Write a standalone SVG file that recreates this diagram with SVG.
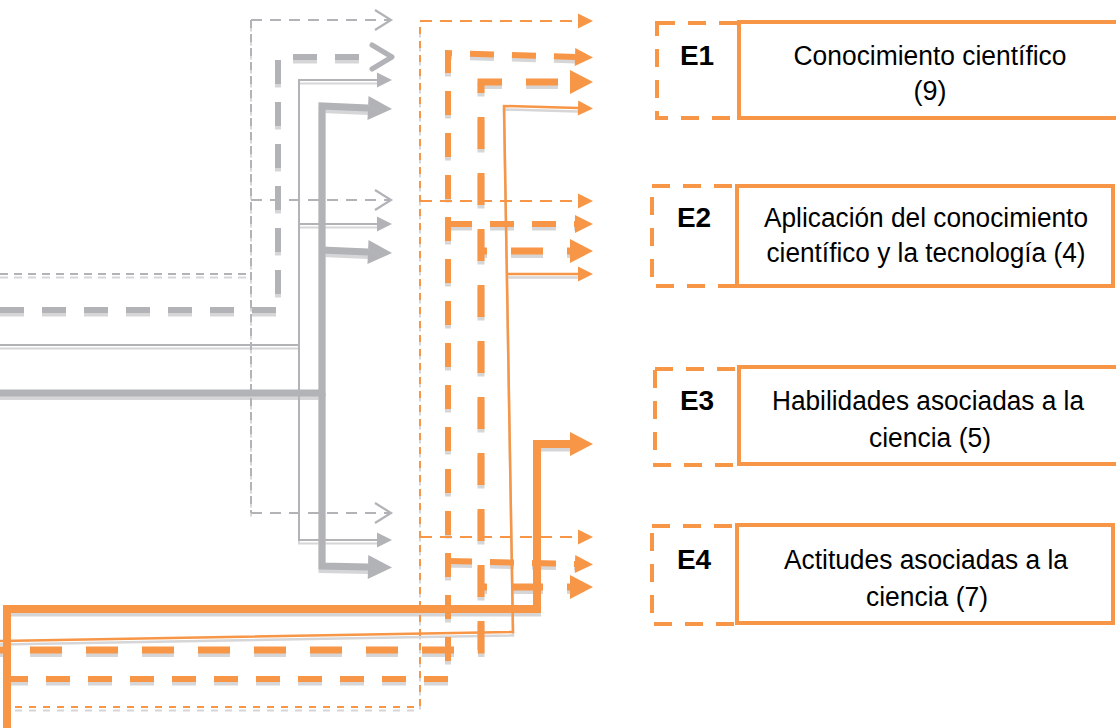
<svg xmlns="http://www.w3.org/2000/svg" width="1116" height="728" viewBox="0 0 1116 728">
<style>
.sh{fill:none;stroke:#d6d6d8}
.g{fill:none;stroke:#b1b3b6}
.o{fill:none;stroke:#f79646}
.w2{stroke-width:2}
.w25{stroke-width:2.5}
.w6{stroke-width:6}
.w7{stroke-width:7}
.w8{stroke-width:8}
.d1{stroke-dasharray:8 6}
.d1b{stroke-dasharray:11 8}
.d2{stroke-dasharray:24 18}
.d3{stroke-dasharray:32 24;stroke-dashoffset:26}
.do1{stroke-dasharray:7 7}
.do1b{stroke-dasharray:12 8}
.lbl{fill:#fff;stroke:#f79646;stroke-width:4;stroke-dasharray:18 13}
.box{fill:#fff;stroke:#f79646;stroke-width:4}
text{font-family:"Liberation Sans",Arial,sans-serif;font-size:27px;fill:#000;text-anchor:middle}
.lab{font-weight:bold;font-size:28px}
</style>
<defs>
<marker id="gChevThin" markerUnits="userSpaceOnUse" orient="auto" overflow="visible" markerWidth="1" markerHeight="1" refX="0" refY="0">
<path d="M-16,-10 L0,0 L-16,10" fill="none" stroke="#b1b3b6" stroke-width="2.2"/>
</marker>
<marker id="gChevThick" markerUnits="userSpaceOnUse" orient="auto" overflow="visible" markerWidth="1" markerHeight="1" refX="0" refY="0">
<path d="M-2,-12 L18,0 L-2,12" fill="none" stroke="#b1b3b6" stroke-width="5" stroke-linecap="round" stroke-linejoin="round"/>
</marker>
<marker id="gTriThin" markerUnits="userSpaceOnUse" orient="auto" overflow="visible" markerWidth="1" markerHeight="1" refX="0" refY="0">
<path d="M0,-7.5 L15,0 L0,7.5 Z" fill="#b1b3b6"/>
</marker>
<marker id="gTriThick" markerUnits="userSpaceOnUse" orient="auto" overflow="visible" markerWidth="1" markerHeight="1" refX="0" refY="0">
<path d="M0,-12 L24,0 L0,12 Z" fill="#b1b3b6"/>
</marker>
<marker id="oTriThin" markerUnits="userSpaceOnUse" orient="auto" overflow="visible" markerWidth="1" markerHeight="1" refX="0" refY="0">
<path d="M0,-7.5 L15,0 L0,7.5 Z" fill="#f79646"/>
</marker>
<marker id="oTriMed" markerUnits="userSpaceOnUse" orient="auto" overflow="visible" markerWidth="1" markerHeight="1" refX="0" refY="0">
<path d="M0,-9 L18,0 L0,9 Z" fill="#f79646"/>
</marker>
<marker id="oTriBig" markerUnits="userSpaceOnUse" orient="auto" overflow="visible" markerWidth="1" markerHeight="1" refX="0" refY="0">
<path d="M0,-12 L23,0 L0,12 Z" fill="#f79646"/>
</marker>
</defs>
<rect width="1116" height="728" fill="#fff"/>
<g id="connectors">
<g id="shadows" transform="translate(0,3.5)">
<path class="sh w2 d1" d="M0,274 H251 M251,20 V513"/>
<path class="sh w6 d2" d="M0,310 H278 V57 H374"/>
<path class="sh w2" d="M0,345 H299 V80 H377 M299,224 H377 M299,345 V540 H377"/>
<path class="sh w7" d="M0,393 H322 V106 L368,108 M322,250 L368,252 M322,393 V566 L368,567"/>
<path class="sh w2 do1" d="M15,707 H420 V21"/>
<path class="sh w6 d2" d="M4,679 H448 V53 L575,57 M448,224 H575 M448,561 L575,564"/>
<path class="sh w7 d3" d="M0,650 H481 V82 H570"/>
<path class="sh w7 d3" d="M481,251 H570 M481,587 H570"/>
<path class="sh w25" d="M0,641 L513,632 L504,106 L578,108 M506,274 H578"/>
<path class="sh w8" d="M7,728 V609 H537 V444 H570"/>
</g>
<g id="gray-lines">
<path class="g w2 d1" d="M0,274 H251 M251,20 V513"/>
<path class="g w2 d1b" d="M251,20 H391" marker-end="url(#gChevThin)"/>
<path class="g w2 d1b" d="M251,200 H391" marker-end="url(#gChevThin)"/>
<path class="g w2 d1b" d="M251,513 H391" marker-end="url(#gChevThin)"/>
<path class="g w6 d2" d="M0,310 H278 V57 H374" marker-end="url(#gChevThick)"/>
<path class="g w2" d="M0,345 H299 V80 H377" marker-end="url(#gTriThin)"/>
<path class="g w2" d="M299,224 H377" marker-end="url(#gTriThin)"/>
<path class="g w2" d="M299,345 V540 H377" marker-end="url(#gTriThin)"/>
<path class="g w7" d="M0,393 H322 V106 L368,108" marker-end="url(#gTriThick)"/>
<path class="g w7" d="M322,250 L368,252" marker-end="url(#gTriThick)"/>
<path class="g w7" d="M322,393 V566 L368,567" marker-end="url(#gTriThick)"/>
</g>
<g id="orange-lines">
<path class="o w2 do1" d="M15,707 H420 V21"/>
<path class="o w2 do1b" d="M420,21 H578" marker-end="url(#oTriThin)"/>
<path class="o w2 do1b" d="M420,201 H578" marker-end="url(#oTriThin)"/>
<path class="o w2 do1b" d="M420,537 H578" marker-end="url(#oTriThin)"/>
<path class="o w6 d2" d="M4,679 H448 V53 L575,57" marker-end="url(#oTriMed)"/>
<path class="o w6 d2" d="M448,224 H575" marker-end="url(#oTriMed)"/>
<path class="o w6 d2" d="M448,561 L575,564" marker-end="url(#oTriMed)"/>
<path class="o w7 d3" d="M0,650 H481 V82 H570" marker-end="url(#oTriBig)"/>
<path class="o w7 d3" d="M481,251 H570" marker-end="url(#oTriBig)"/>
<path class="o w7 d3" d="M481,587 H570" marker-end="url(#oTriBig)"/>
<path class="o w25" d="M0,641 L513,632 L504,106 L578,108" marker-end="url(#oTriThin)"/>
<path class="o w25" d="M506,274 H578" marker-end="url(#oTriThin)"/>
<path class="o w8" d="M7,728 V609 H537 V444 H570" marker-end="url(#oTriBig)"/>
</g>
</g>
<g id="E1">
<rect class="lbl" x="657" y="23" width="82" height="95"/>
<rect class="box" x="739" y="22" width="420" height="96"/>
<text class="lab" x="697" y="65">E1</text>
<text x="930" y="65" textLength="273" lengthAdjust="spacingAndGlyphs">Conocimiento científico</text>
<text x="930" y="100" textLength="33" lengthAdjust="spacingAndGlyphs">(9)</text>
</g>
<g id="E2">
<rect class="lbl" x="652" y="186" width="85" height="100"/>
<rect class="box" x="737" y="186" width="376" height="100"/>
<text class="lab" x="694" y="227">E2</text>
<text x="926" y="227" textLength="324" lengthAdjust="spacingAndGlyphs">Aplicación del conocimiento</text>
<text x="926" y="262" textLength="319" lengthAdjust="spacingAndGlyphs">científico y la tecnología (4)</text>
</g>
<g id="E3">
<rect class="lbl" x="655" y="369" width="84" height="96"/>
<rect class="box" x="739" y="367" width="420" height="97"/>
<text class="lab" x="697" y="410">E3</text>
<text x="928" y="410" textLength="312" lengthAdjust="spacingAndGlyphs">Habilidades asociadas a la</text>
<text x="930" y="447" textLength="122" lengthAdjust="spacingAndGlyphs">ciencia (5)</text>
</g>
<g id="E4">
<rect class="lbl" x="652" y="526" width="85" height="98"/>
<rect class="box" x="737" y="525" width="376" height="98"/>
<text class="lab" x="694" y="569">E4</text>
<text x="926" y="569" textLength="284" lengthAdjust="spacingAndGlyphs">Actitudes asociadas a la</text>
<text x="927" y="606" textLength="122" lengthAdjust="spacingAndGlyphs">ciencia (7)</text>
</g>
</svg>
